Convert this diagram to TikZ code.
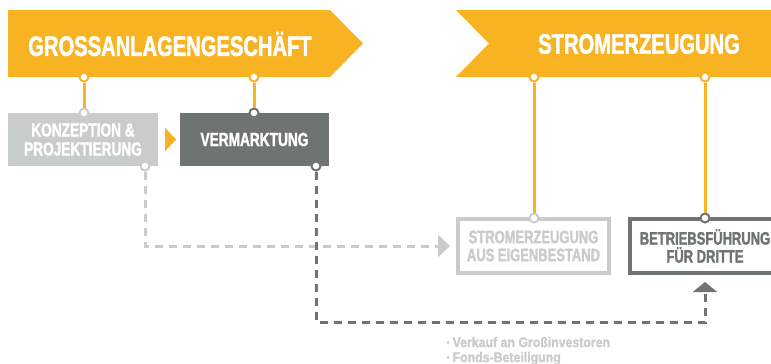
\documentclass[tikz,border=0pt]{standalone}
\usepackage{fontspec}
\setmainfont{Liberation Sans}[FakeStretch=0.72, FakeBold=1.6]
\newfontfamily\breit{Liberation Sans}[FakeStretch=0.88, FakeBold=1.6]
\usepackage{tikz}
\usetikzlibrary{arrows.meta, positioning}

\definecolor{sgelb}{HTML}{F8B322}
\definecolor{shell}{HTML}{C8CCCB}
\definecolor{sdunkel}{HTML}{6E7472}

\begin{document}
\begin{tikzpicture}[x=1pt, y=-1pt]
      \tikzset{
        titel/.style={text=white, font=\bfseries\fontsize{28}{30}\selectfont, inner sep=0pt},
        feld/.style={rectangle, minimum width=149pt, minimum height=53pt, inner sep=0pt,
                     align=center, font=\bfseries\fontsize{19}{19}\selectfont},
        rahmen/.style={rectangle, line width=4pt, fill=white, minimum width=151pt,
                       minimum height=54pt, inner sep=0pt, align=center,
                       font=\bfseries\fontsize{18}{18}\selectfont},
        punkt/.style={circle, draw=#1, fill=white, line width=2pt, minimum size=9pt, inner sep=0pt},
        stiel/.style={draw=sgelb, line width=3pt},
        strich/.style={draw=#1, line width=3pt, dash pattern=on 8pt off 6pt}
      }

      \useasboundingbox (0,0) rectangle (771,364);

      \fill[sgelb] (8,10) -- (330,10) -- (363,43.5) -- (330,77) -- (8,77) -- cycle;
      \fill[sgelb] (456,10) -- (790,10) -- (790,77) -- (456,77) -- (489,43.5) -- cycle;

      \node[titel] (gross) at (170,44) {GROSSANLAGENGESCHÄFT};
      \node[titel] (strom) at (639,44) {STROMERZEUGUNG};

      \node[feld, fill=shell, text=white, minimum width=150pt] (konz) at (83,139.5)
        {KONZEPTION \&\\PROJEKTIERUNG};
      \node[feld, fill=sdunkel, text=white] (verm) at (254.5,139.5) {VERMARKTUNG};

      \node[rahmen, draw=shell, text=shell] (eigen) at (533.5,246)
        {STROMERZEUGUNG\\AUS EIGENBESTAND};
      \node[rahmen, draw=sdunkel, text=sdunkel, minimum width=150pt] (dritte) at (705,246)
        {BETRIEBSFÜHRUNG\\FÜR DRITTE};

      \fill[sgelb] ([shift={(7,-11.5)}]konz.east) -- ++(11,11.5) -- ++(-11,11.5) -- cycle;

      \node[punkt=sgelb] (g1) at (84,77) {};
      \node[punkt=sgelb] (g2) at (254,77) {};
      \node[punkt=sgelb] (s1) at (534,77) {};
      \node[punkt=sgelb] (s2) at (705,77) {};

      \node[punkt=shell] (k1) at (84,113) {};
      \node[punkt=sdunkel] (v1) at (254,113) {};
      \node[punkt=shell] (k2) at (145,166) {};
      \node[punkt=sdunkel] (v2) at (316,166) {};
      \node[punkt=shell] (e1) at (534,218) {};
      \node[punkt=sdunkel] (d1) at (705,218) {};

      \draw[stiel] (g1) -- (k1);
      \draw[stiel] (g2) -- (v1);
      \draw[stiel] (s1) -- (e1);
      \draw[stiel] (s2) -- (d1);

      \draw[strich=shell, shorten >=6pt, -{Triangle[width=22pt, length=12pt]}]
        (k2) |- (eigen.west);
      \draw[strich=sdunkel, shorten >=7pt, -{Triangle[width=24pt, length=10pt]}]
        (v2) -- ++(0,156) -| (dritte.south);

      \node[anchor=west, align=left, text=shell, inner sep=0pt,
            font=\breit\bfseries\fontsize{14}{15}\selectfont] (verkauf) at (446,351)
        {·\,Verkauf an Großinvestoren\\·\,Fonds-Beteiligung};

    \end{tikzpicture}
\end{document}
